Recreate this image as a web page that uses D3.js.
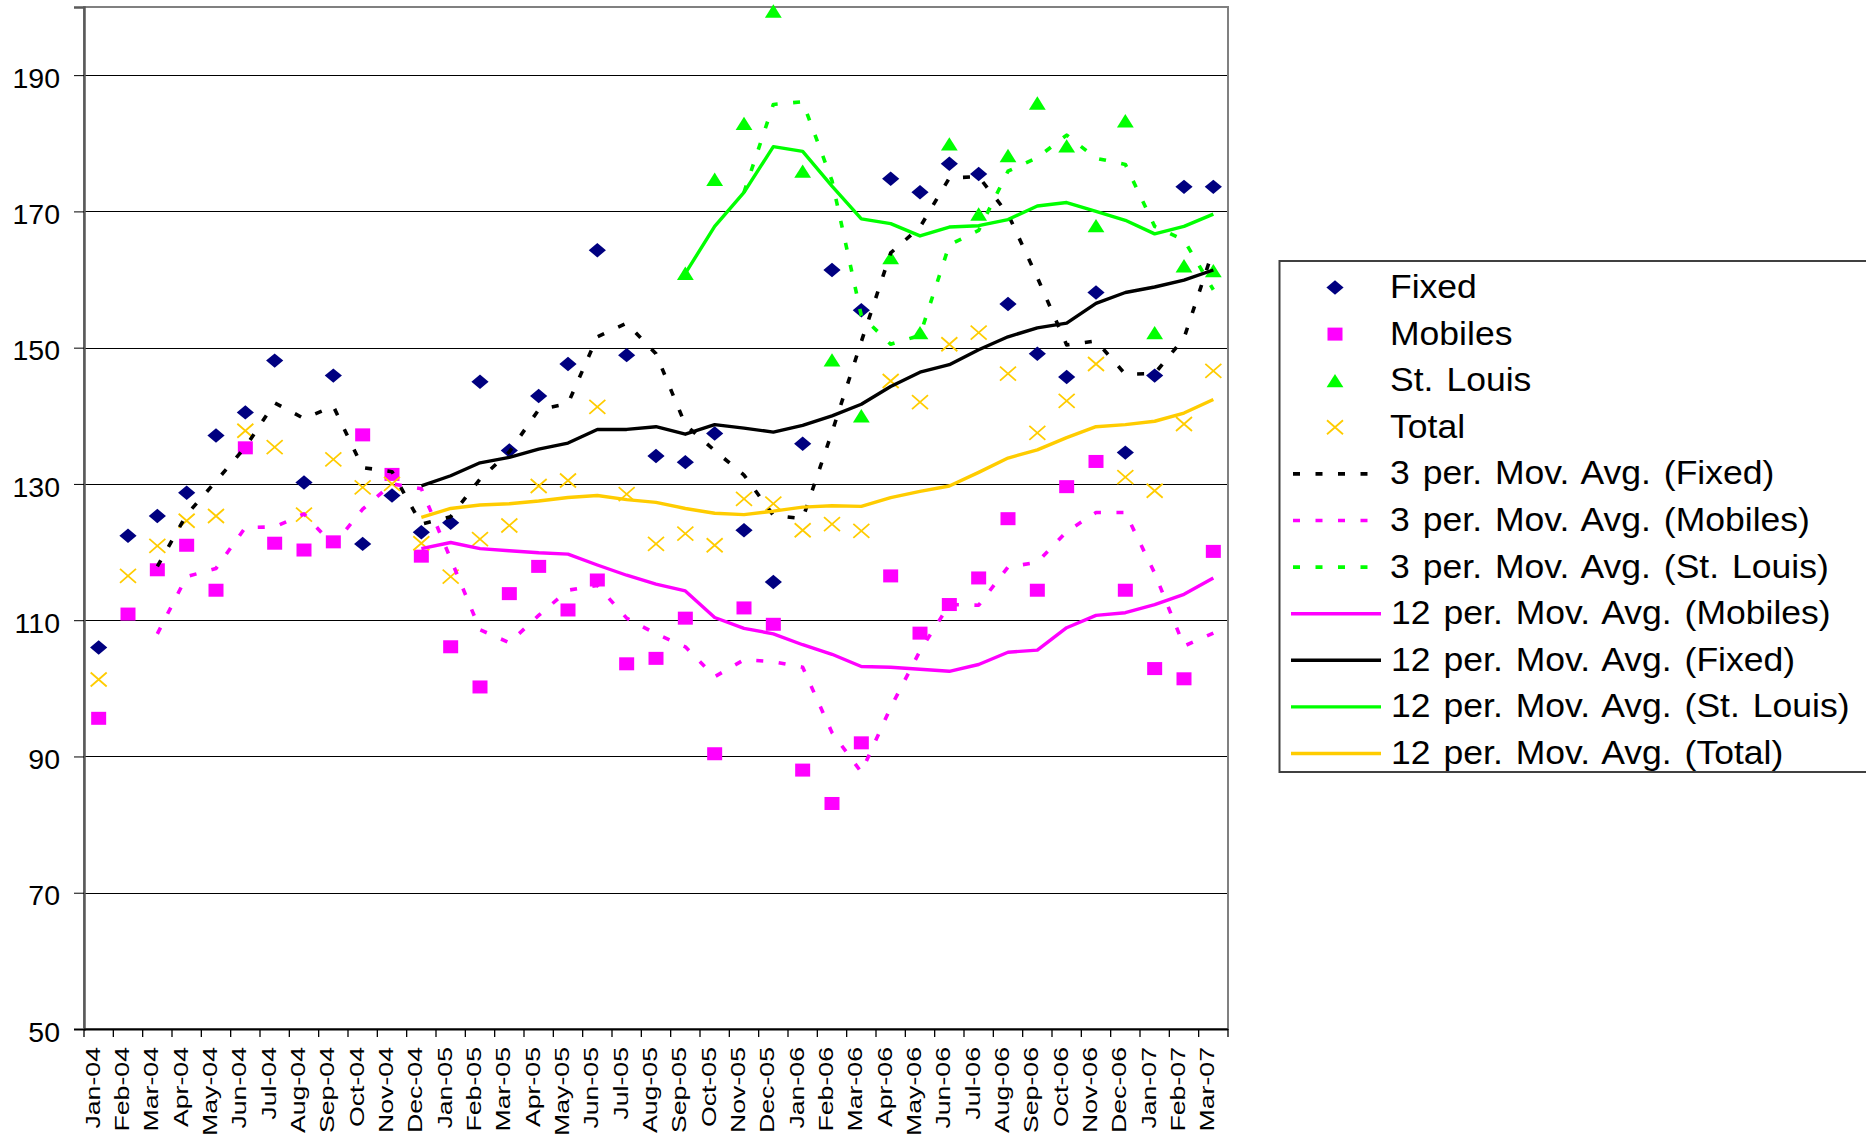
<!DOCTYPE html>
<html>
<head>
<meta charset="utf-8">
<script src="https://cdn.jsdelivr.net/npm/d3@7"></script>
<style>
  body { margin: 0; background: #fff; }
  svg { display: block; }
  text { font-family: "Liberation Sans", Arial, Helvetica, sans-serif; fill: #000; }
</style>
</head>
<body>
<svg id="chart" width="1866" height="1137"></svg>
<script>
// ---------------- DATA ----------------
const months = ["Jan-04","Feb-04","Mar-04","Apr-04","May-04","Jun-04","Jul-04","Aug-04","Sep-04","Oct-04","Nov-04","Dec-04",
                "Jan-05","Feb-05","Mar-05","Apr-05","May-05","Jun-05","Jul-05","Aug-05","Sep-05","Oct-05","Nov-05","Dec-05",
                "Jan-06","Feb-06","Mar-06","Apr-06","May-06","Jun-06","Jul-06","Aug-06","Sep-06","Oct-06","Nov-06","Dec-06",
                "Jan-07","Feb-07","Mar-07"];

const fixed   = [106.0,122.4,125.3,128.7,137.1,140.5,148.1,130.2,145.9,121.2,128.3,122.9,
                 124.3,145.0,134.9,142.9,147.6,164.3,148.9,134.1,133.2,137.4,123.2,115.6,
                 135.9,161.4,155.5,174.8,172.8,177.0,175.5,156.4,149.1,145.7,158.1,134.6,
                 145.9,173.6,173.6];
const mobiles = [95.6,110.9,117.4,121.0,114.4,135.3,121.3,120.3,121.5,137.2,131.4,119.4,
                 106.1,100.2,113.9,117.9,111.5,115.9,103.6,104.4,110.3,90.4,111.8,109.4,
                 88.0,83.1,92.0,116.5,108.1,112.3,116.2,124.9,114.4,129.6,133.3,114.4,
                 102.9,101.4,120.1];
const stLouis = [null,null,null,null,null,null,null,null,null,null,null,null,
                 null,null,null,null,null,null,null,null,160.9,174.7,182.9,199.4,
                 175.9,148.2,140.0,163.2,152.2,179.9,169.6,178.2,185.9,179.6,167.9,183.3,
                 152.2,162.0,161.3];
const total   = [101.3,116.5,120.9,124.6,125.3,137.8,135.4,125.5,133.6,129.5,130.0,121.3,
                 116.4,121.9,123.9,129.7,130.5,141.3,128.5,121.2,122.7,121.0,127.8,127.1,
                 123.2,124.1,123.1,145.1,142.0,150.5,152.2,146.2,137.5,142.2,147.6,131.0,
                 129.0,138.8,146.6];

// moving-average trend lines as they appear in the picture
const fixedMA3   = [null,null,117.9,125.5,130.4,135.4,141.9,139.6,141.4,132.4,131.8,124.1,
                    125.2,130.7,134.7,140.9,141.8,151.6,153.6,149.1,138.7,134.9,131.3,125.4,
                    124.9,137.6,150.9,163.9,167.7,174.9,175.1,169.6,160.3,150.4,151.0,146.1,
                    146.2,151.4,164.4];
const mobilesMA3 = [null,null,108.0,116.4,117.6,123.6,123.7,125.6,121.0,126.3,130.0,129.3,
                    119.0,108.6,106.7,110.7,114.4,115.1,110.3,108.0,106.1,101.7,104.2,103.9,
                    103.1,93.5,87.7,97.2,105.5,112.3,112.2,117.8,118.5,123.0,125.8,125.8,
                    116.9,106.2,108.1];
const stLouisMA3 = [null,null,null,null,null,null,null,null,null,null,null,null,
                    null,null,null,null,null,null,null,null,null,null,172.8,185.7,
                    186.1,174.5,154.7,150.5,151.8,165.1,167.2,175.9,177.9,181.2,177.8,176.9,
                    167.8,165.8,158.5];
const mobilesMA12 = [null,null,null,null,null,null,null,null,null,null,null,120.5,
                    121.4,120.5,120.2,119.9,119.7,118.1,116.6,115.3,114.3,110.4,108.8,108.0,
                    106.4,105.0,103.2,103.1,102.8,102.5,103.5,105.3,105.6,108.9,110.7,111.1,
                    112.3,113.8,116.2];
const fixedMA12  = [null,null,null,null,null,null,null,null,null,null,null,129.7,
                    131.2,133.1,133.9,135.1,136.0,138.0,138.0,138.4,137.3,138.7,138.2,137.6,
                    138.6,140.0,141.7,144.3,146.4,147.5,149.7,151.6,152.9,153.6,156.5,158.1,
                    158.9,159.9,161.4];
const stLouisMA12 = [null,null,null,null,null,null,null,null,null,null,null,null,
                    null,null,null,null,null,null,null,null,160.9,167.8,172.8,179.5,
                    178.8,173.7,168.9,168.2,166.4,167.7,167.9,168.8,170.8,171.3,170.0,168.7,
                    166.7,167.8,169.6];
const totalMA12  = [null,null,null,null,null,null,null,null,null,null,null,125.1,
                    126.4,126.9,127.1,127.5,128.0,128.3,127.7,127.3,126.4,125.7,125.5,126.0,
                    126.6,126.8,126.7,128.0,128.9,129.7,131.7,133.8,135.0,136.8,138.4,138.7,
                    139.2,140.4,142.4];

const yTickValues = [50,70,90,110,130,150,170,190];

const legendLabels = ["Fixed","Mobiles","St. Louis","Total",
  "3 per. Mov. Avg. (Fixed)","3 per. Mov. Avg. (Mobiles)","3 per. Mov. Avg. (St. Louis)",
  "12 per. Mov. Avg. (Mobiles)","12 per. Mov. Avg. (Fixed)","12 per. Mov. Avg. (St. Louis)","12 per. Mov. Avg. (Total)"];

// ---------------- STYLE ----------------
const NAVY = "#000080", MAGENTA = "#FF00FF", LIME = "#00FF00", GOLD = "#FFCC00", BLACK = "#000000";
const plot = { left: 84, right: 1228, top: 7, bottom: 1029 };

const svg = d3.select("#chart");
const x = d3.scaleBand().domain(months).range([plot.left, plot.right]).paddingInner(0).paddingOuter(0);
const y = d3.scaleLinear().domain([50, 200]).range([plot.bottom, plot.top]);
const cx = m => x(m) + x.bandwidth() / 2;

// gridlines
svg.append("g").selectAll("line")
  .data(yTickValues.filter(v => v > 50)).join("line")
  .attr("x1", plot.left).attr("x2", plot.right)
  .attr("y1", d => Math.round(y(d)) + 0.5).attr("y2", d => Math.round(y(d)) + 0.5)
  .attr("stroke", "#000").attr("stroke-width", 1);

// plot area border
svg.append("rect")
  .attr("x", plot.left).attr("y", plot.top)
  .attr("width", plot.right - plot.left).attr("height", plot.bottom - plot.top)
  .attr("fill", "none").attr("stroke", "#808080").attr("stroke-width", 2);

// y axis
const yAxis = d3.axisLeft(y).tickValues(yTickValues).tickSize(10).tickPadding(14).tickFormat(d3.format("d"));
const gy = svg.append("g").attr("transform", `translate(${plot.left},0)`).call(yAxis)
  .attr("font-size", 28.5).attr("font-family", "'Liberation Sans', Arial, sans-serif");
gy.select(".domain").attr("stroke", "#5a5a5a").attr("stroke-width", 2.5);
gy.selectAll(".tick line").attr("stroke", "#000").attr("stroke-width", 1);
gy.selectAll(".tick text").attr("dy", "0.43em").attr("fill", "#000");

// x axis (ticks between categories, rotated labels)
const gx = svg.append("g");
gx.append("line").attr("x1", plot.left).attr("x2", plot.right)
  .attr("y1", plot.bottom + 0.5).attr("y2", plot.bottom + 0.5)
  .attr("stroke", "#000").attr("stroke-width", 2);
const bounds = months.map(m => x(m)).concat([x(months[months.length - 1]) + x.bandwidth()]);
gx.selectAll("line.tk").data(bounds).join("line").attr("class", "tk")
  .attr("x1", d => d).attr("x2", d => d)
  .attr("y1", plot.bottom).attr("y2", plot.bottom + 8)
  .attr("stroke", "#000").attr("stroke-width", 1.3);
gx.selectAll("text").data(months).join("text")
  .attr("transform", m => `translate(${cx(m)},${plot.bottom}) rotate(-90) scale(1,0.76)`)
  .attr("x", -18).attr("y", 1.5)
  .attr("text-anchor", "end")
  .attr("font-size", 26.7)
  .text(m => m);

// ---------------- SERIES ----------------
const toPts = arr => arr.map((v, i) => ({ m: months[i], v }));
const lineGen = d3.line().defined(d => d.v != null).x(d => cx(d.m)).y(d => y(d.v));

// markers
const diamond = "M0,-7.2L8.6,0L0,7.2L-8.6,0Z";
const triangle = "M0,-6.8L8.4,6.6L-8.4,6.6Z";

function drawMarkers(arr, kind, color) {
  const g = svg.append("g");
  const pts = toPts(arr).filter(d => d.v != null);
  if (kind === "diamond" || kind === "triangle") {
    g.selectAll("path").data(pts).join("path")
      .attr("d", kind === "diamond" ? diamond : triangle)
      .attr("transform", d => `translate(${cx(d.m)},${y(d.v)})`)
      .attr("fill", color);
  } else if (kind === "square") {
    g.selectAll("rect").data(pts).join("rect")
      .attr("x", d => cx(d.m) - 7.5).attr("y", d => y(d.v) - 6.5)
      .attr("width", 15).attr("height", 13).attr("fill", color);
  } else if (kind === "x") {
    g.selectAll("path").data(pts).join("path")
      .attr("d", "M-8,-7L8,7M-8,7L8,-7")
      .attr("transform", d => `translate(${cx(d.m)},${y(d.v)})`)
      .attr("stroke", color).attr("stroke-width", 1.8).attr("fill", "none");
  }
}
drawMarkers(fixed, "diamond", NAVY);
drawMarkers(mobiles, "square", MAGENTA);
drawMarkers(stLouis, "triangle", LIME);
drawMarkers(total, "x", GOLD);

// trend lines
const DASH = "7,15.5";
const trends = [
  { data: fixedMA3,    color: BLACK,   dash: DASH, w: 3.6 },
  { data: mobilesMA3,  color: MAGENTA, dash: DASH, w: 3.6 },
  { data: stLouisMA3,  color: LIME,    dash: DASH, w: 3.6 },
  { data: mobilesMA12, color: MAGENTA, dash: null, w: 3.4 },
  { data: fixedMA12,   color: BLACK,   dash: null, w: 3.4 },
  { data: stLouisMA12, color: LIME,    dash: null, w: 3.4 },
  { data: totalMA12,   color: GOLD,    dash: null, w: 3.4 }
];
trends.forEach(t => {
  svg.append("path").datum(toPts(t.data))
    .attr("d", lineGen)
    .attr("fill", "none")
    .attr("stroke", t.color)
    .attr("stroke-width", t.w)
    .attr("stroke-dasharray", t.dash)
    .attr("stroke-linejoin", "round");
});

// ---------------- LEGEND ----------------
const lg = svg.append("g");
lg.append("rect").attr("x", 1279.5).attr("y", 261).attr("width", 620).attr("height", 511)
  .attr("fill", "#fff").attr("stroke", "#404040").attr("stroke-width", 2);

const legendItems = [
  { kind: "diamond", color: NAVY }, { kind: "square", color: MAGENTA },
  { kind: "triangle", color: LIME }, { kind: "x", color: GOLD },
  { kind: "dash", color: BLACK }, { kind: "dash", color: MAGENTA }, { kind: "dash", color: LIME },
  { kind: "solid", color: MAGENTA }, { kind: "solid", color: BLACK }, { kind: "solid", color: LIME }, { kind: "solid", color: GOLD }
];
legendItems.forEach((it, i) => {
  const yc = 287.5 + i * 46.6;
  const mx = 1335;
  if (it.kind === "diamond") {
    lg.append("path").attr("d", diamond).attr("transform", `translate(${mx},${yc})`).attr("fill", it.color);
  } else if (it.kind === "triangle") {
    lg.append("path").attr("d", triangle).attr("transform", `translate(${mx},${yc})`).attr("fill", it.color);
  } else if (it.kind === "square") {
    lg.append("rect").attr("x", mx - 7.5).attr("y", yc - 6.5).attr("width", 15).attr("height", 13).attr("fill", it.color);
  } else if (it.kind === "x") {
    lg.append("path").attr("d", "M-8,-7L8,7M-8,7L8,-7").attr("transform", `translate(${mx},${yc})`)
      .attr("stroke", it.color).attr("stroke-width", 1.8).attr("fill", "none");
  } else if (it.kind === "dash") {
    lg.append("line").attr("x1", 1293).attr("x2", 1368).attr("y1", yc).attr("y2", yc)
      .attr("stroke", it.color).attr("stroke-width", 3.6).attr("stroke-dasharray", DASH);
  } else {
    lg.append("line").attr("x1", 1291).attr("x2", 1381).attr("y1", yc).attr("y2", yc)
      .attr("stroke", it.color).attr("stroke-width", 3.4);
  }
  lg.append("text")
    .attr("transform", `translate(${i < 7 ? 1390 : 1391},${yc + 10.5}) scale(1.045,1)`)
    .attr("font-size", 34).attr("word-spacing", "3px")
    .text(legendLabels[i]);
});
</script>
</body>
</html>
